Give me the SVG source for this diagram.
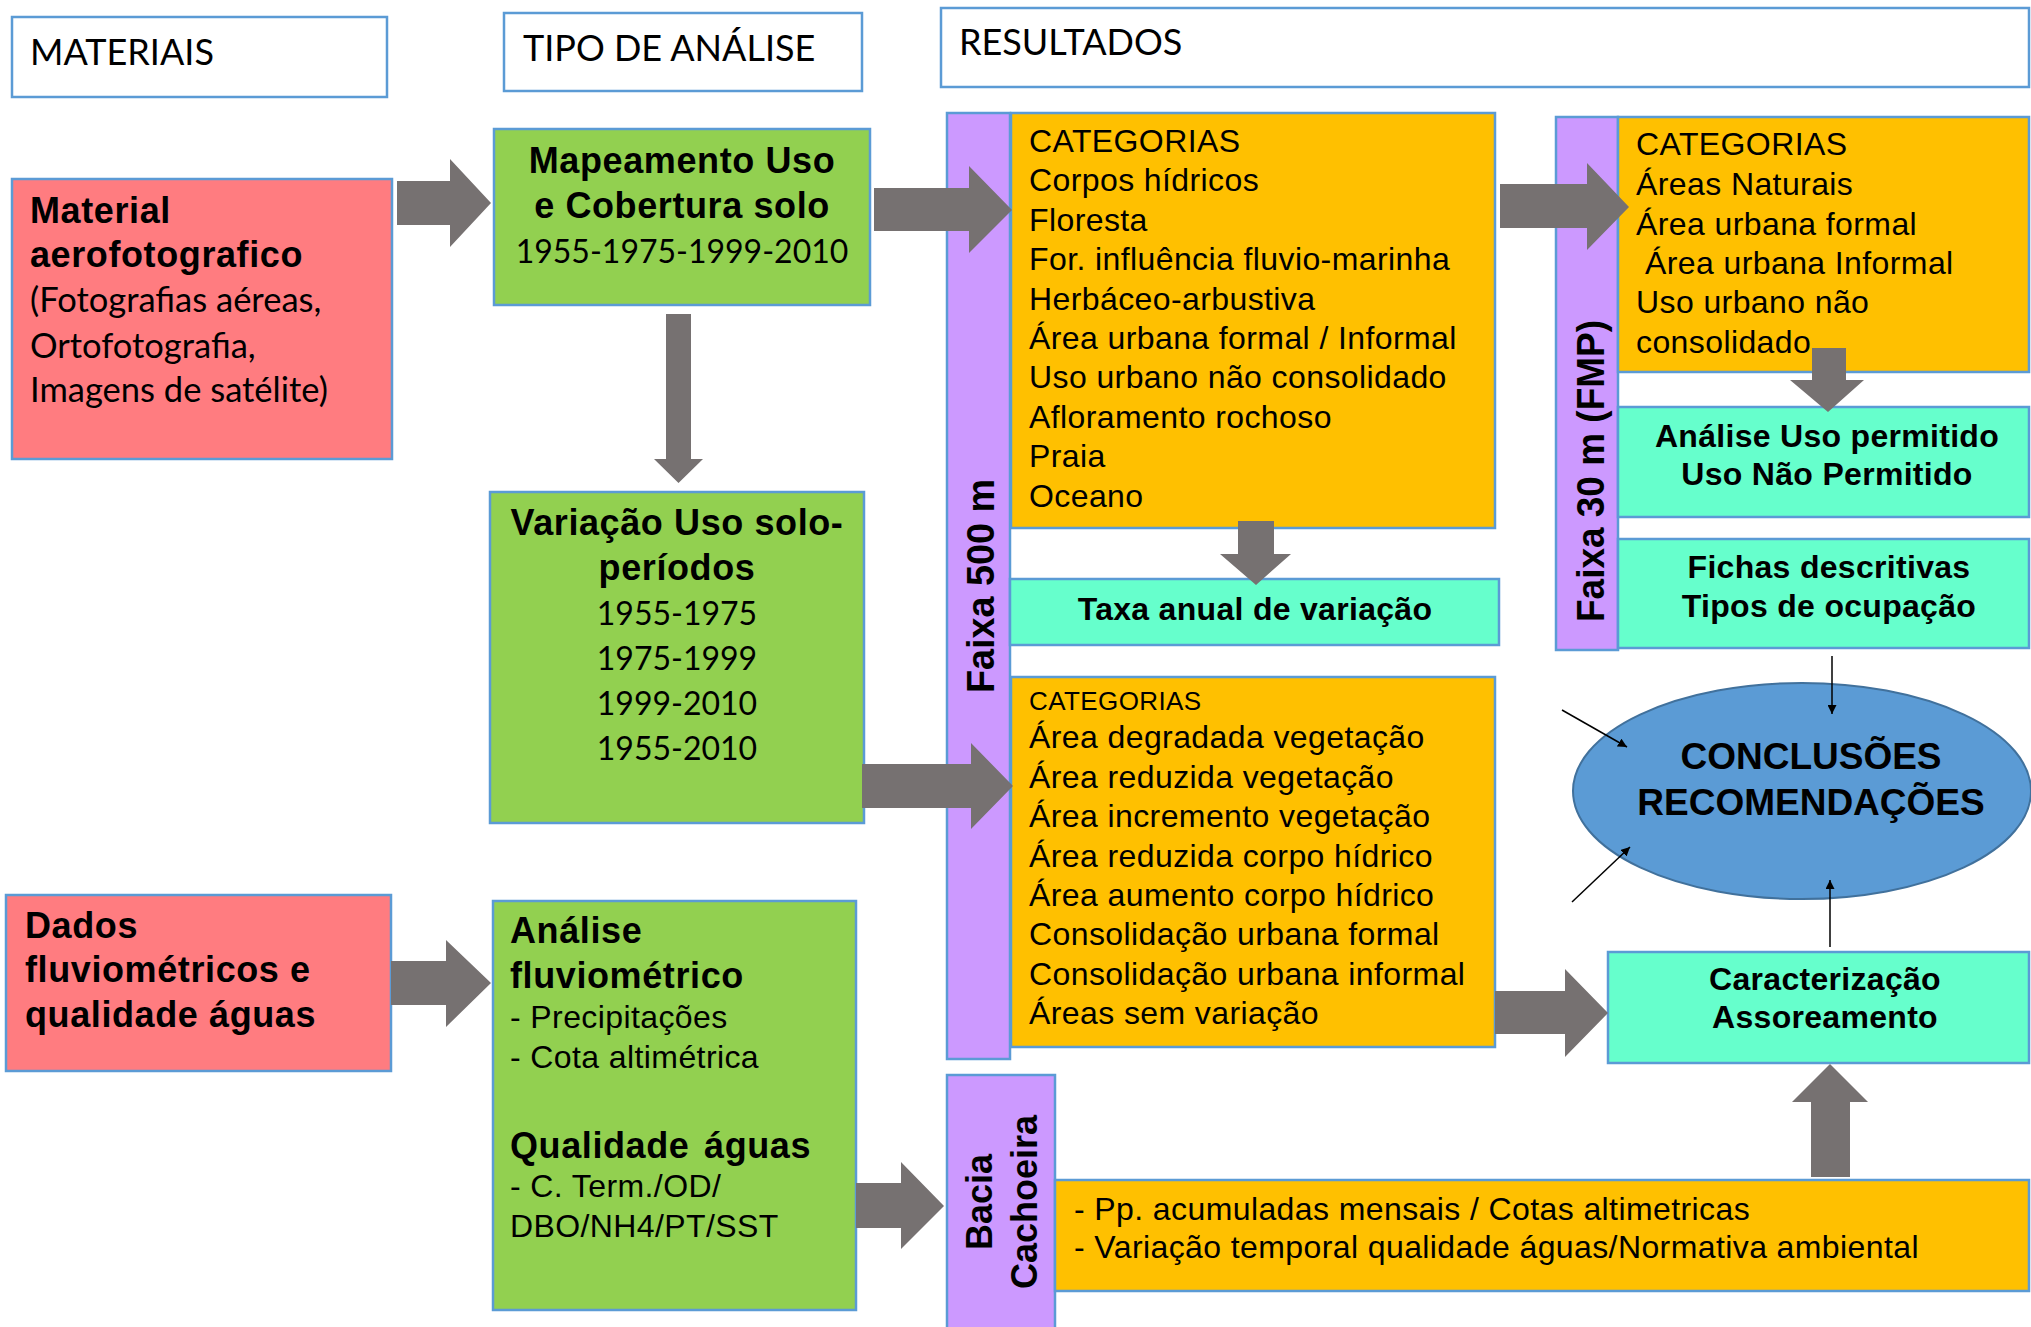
<svg xmlns="http://www.w3.org/2000/svg" width="2031" height="1327" viewBox="0 0 2031 1327">
<defs>
<style>
.box{stroke:#5B9BD5;stroke-width:2.5}
.hdr{fill:#FFFFFF}
.sal{fill:#FF7C80}
.grn{fill:#92D050}
.pur{fill:#CC99FF}
.org{fill:#FFC000}
.mnt{fill:#66FFCC}
.cal{font-family:Lato,"Open Sans",sans-serif;fill:#000}
.h{font-size:36px}
.yr{font-size:32px}
.mat{font-size:34.5px}
.b{font-family:"Liberation Sans",Arial,sans-serif;font-weight:bold;font-size:36px;letter-spacing:0.6px;fill:#000}
.r{font-family:"Liberation Sans",Arial,sans-serif;font-size:32px;letter-spacing:0.4px;fill:#000}
.m{font-family:"Liberation Sans",Arial,sans-serif;font-weight:bold;font-size:32px;letter-spacing:0.3px;fill:#000}
.v{font-family:"Liberation Sans",Arial,sans-serif;font-weight:bold;font-size:38px;fill:#000}
.c{text-anchor:middle}
.blk{fill:#767171}
.thin{stroke:#000;stroke-width:1.5;fill:none;marker-end:url(#ah)}
</style>
<marker id="ah" viewBox="0 0 10 10" refX="10" refY="5" markerWidth="9" markerHeight="9" markerUnits="userSpaceOnUse" orient="auto">
<path d="M0,0 L10,5 L0,10 z" fill="#000"/>
</marker>
</defs>
<rect width="2031" height="1327" fill="#FFFFFF"/>

<g id="hdr-materiais">
<rect class="box hdr" x="12" y="17" width="375" height="80"/>
<text class="cal h" x="30" y="65">MATERIAIS</text>
</g>
<g id="hdr-tipo">
<rect class="box hdr" x="504" y="13" width="358" height="78"/>
<text class="cal h" x="523" y="61">TIPO DE ANÁLISE</text>
</g>
<g id="hdr-resultados">
<rect class="box hdr" x="941" y="8" width="1088" height="79"/>
<text class="cal h" x="959" y="55">RESULTADOS</text>
</g>

<g id="material-aerofoto">
<rect class="box sal" x="12" y="179" width="380" height="280"/>
<text class="b" x="30" y="223">Material</text>
<text class="b" x="30" y="267">aerofotografico</text>
<text class="cal mat" x="30" y="312">(Fotografias aéreas,</text>
<text class="cal mat" x="30" y="358">Ortofotografia,</text>
<text class="cal mat" x="30" y="402">Imagens de satélite)</text>
</g>

<g id="dados-fluvio">
<rect class="box sal" x="6" y="895" width="385" height="176"/>
<text class="b" x="25" y="938">Dados</text>
<text class="b" x="25" y="982">fluviométricos e</text>
<text class="b" x="25" y="1027">qualidade águas</text>
</g>

<g id="mapeamento">
<rect class="box grn" x="494" y="129" width="376" height="176"/>
<text class="b c" x="682" y="173">Mapeamento Uso</text>
<text class="b c" x="682" y="218">e Cobertura solo</text>
<text class="cal yr c" x="682" y="263">1955-1975-1999-2010</text>
</g>

<g id="variacao">
<rect class="box grn" x="490" y="492" width="374" height="331"/>
<text class="b c" x="677" y="535">Variação Uso solo-</text>
<text class="b c" x="677" y="580">períodos</text>
<text class="cal yr c" x="677" y="625">1955-1975</text>
<text class="cal yr c" x="677" y="670">1975-1999</text>
<text class="cal yr c" x="677" y="715">1999-2010</text>
<text class="cal yr c" x="677" y="760">1955-2010</text>
</g>

<g id="analise-fluvio">
<rect class="box grn" x="493" y="901" width="363" height="409"/>
<text class="b" x="510" y="943">Análise</text>
<text class="b" x="510" y="988">fluviométrico</text>
<text class="r" x="510" y="1028">- Precipitações</text>
<text class="r" x="510" y="1068">- Cota altimétrica</text>
<text class="b" x="510" y="1158" style="word-spacing:4px">Qualidade águas</text>
<text class="r" x="510" y="1197">- C. Term./OD/</text>
<text class="r" x="510" y="1237">DBO/NH4/PT/SST</text>
</g>

<g id="faixa-500">
<rect class="box pur" x="947" y="113" width="63" height="946"/>
<text class="v c" transform="translate(994,586) rotate(-90)" x="0" y="0" textLength="214" lengthAdjust="spacingAndGlyphs">Faixa  500  m</text>
</g>

<g id="bacia">
<rect class="box pur" x="947" y="1075" width="108" height="270"/>
<text class="v c" style="font-size:36px" transform="translate(992,1202) rotate(-90)" x="0" y="0">Bacia</text>
<text class="v c" style="font-size:36px" transform="translate(1037,1202) rotate(-90)" x="0" y="0">Cachoeira</text>
</g>

<g id="faixa-30">
<rect class="box pur" x="1556" y="117" width="62" height="533"/>
<text class="v c" transform="translate(1604,471) rotate(-90)" x="0" y="0" textLength="302" lengthAdjust="spacingAndGlyphs">Faixa 30 m (FMP)</text>
</g>

<g id="categorias-1">
<rect class="box org" x="1011" y="113" width="484" height="415"/>
<text class="r" x="1029" y="152">CATEGORIAS</text>
<text class="r" x="1029" y="191">Corpos hídricos</text>
<text class="r" x="1029" y="231">Floresta</text>
<text class="r" x="1029" y="270">For. influência fluvio-marinha</text>
<text class="r" x="1029" y="310">Herbáceo-arbustiva</text>
<text class="r" x="1029" y="349">Área urbana formal / Informal</text>
<text class="r" x="1029" y="388">Uso urbano não consolidado</text>
<text class="r" x="1029" y="428">Afloramento rochoso</text>
<text class="r" x="1029" y="467">Praia</text>
<text class="r" x="1029" y="507">Oceano</text>
</g>

<g id="taxa-anual">
<rect class="box mnt" x="1010" y="579" width="489" height="66"/>
<text class="m c" x="1255" y="620">Taxa anual de variação</text>
</g>

<g id="categorias-3">
<rect class="box org" x="1011" y="677" width="484" height="370"/>
<text class="r" style="font-size:26px" x="1029" y="710">CATEGORIAS</text>
<text class="r" x="1029" y="748">Área degradada vegetação</text>
<text class="r" x="1029" y="788">Área reduzida vegetação</text>
<text class="r" x="1029" y="827">Área incremento vegetação</text>
<text class="r" x="1029" y="867">Área reduzida corpo hídrico</text>
<text class="r" x="1029" y="906">Área aumento corpo hídrico</text>
<text class="r" x="1029" y="945">Consolidação urbana formal</text>
<text class="r" x="1029" y="985">Consolidação urbana informal</text>
<text class="r" x="1029" y="1024">Áreas sem variação</text>
</g>

<g id="bacia-resultados">
<rect class="box org" x="1055" y="1180" width="974" height="111"/>
<text class="r" x="1074" y="1220">- Pp. acumuladas mensais / Cotas altimetricas</text>
<text class="r" x="1074" y="1258">- Variação temporal qualidade águas/Normativa ambiental</text>
</g>

<g id="categorias-2">
<rect class="box org" x="1618" y="117" width="411" height="255"/>
<text class="r" x="1636" y="155">CATEGORIAS</text>
<text class="r" x="1636" y="195">Áreas Naturais</text>
<text class="r" x="1636" y="235">Área urbana formal</text>
<text class="r" x="1645" y="274">Área urbana Informal</text>
<text class="r" x="1636" y="313">Uso urbano não</text>
<text class="r" x="1636" y="353">consolidado</text>
</g>

<g id="analise-uso">
<rect class="box mnt" x="1618" y="407" width="411" height="110"/>
<text class="m c" x="1827" y="447">Análise Uso permitido</text>
<text class="m c" x="1827" y="485">Uso Não Permitido</text>
</g>

<g id="fichas">
<rect class="box mnt" x="1618" y="539" width="411" height="109"/>
<text class="m c" x="1829" y="578">Fichas descritivas</text>
<text class="m c" x="1829" y="617">Tipos de ocupação</text>
</g>

<g id="caracterizacao">
<rect class="box mnt" x="1608" y="952" width="421" height="111"/>
<text class="m c" x="1825" y="990">Caracterização</text>
<text class="m c" x="1825" y="1028">Assoreamento</text>
</g>

<g id="conclusoes">
<ellipse cx="1802" cy="791" rx="229" ry="108" fill="#5B9BD5" stroke="#41719C" stroke-width="2"/>
<text class="b c" style="font-size:37px;letter-spacing:0" x="1811" y="769">CONCLUSÕES</text>
<text class="b c" style="font-size:37px;letter-spacing:0" x="1811" y="815">RECOMENDAÇÕES</text>
</g>

<g id="connectors">
<polygon class="blk" points="397,181 450,181 450,159 491,203 450,247 450,225 397,225"/>
<polygon class="blk" points="874,188 969,188 969,166 1012,210 969,253 969,231 874,231"/>
<polygon class="blk" points="666,314 691,314 691,459 703,459 678.5,483 654,459 666,459"/>
<polygon class="blk" points="862,764 971,764 971,743 1013,786 971,829 971,808 862,808"/>
<polygon class="blk" points="391,961 446,961 446,940 491,983 446,1027 446,1005 391,1005"/>
<polygon class="blk" points="856,1183 901,1183 901,1162 944,1206 901,1249 901,1228 856,1228"/>
<polygon class="blk" points="1500,184 1587,184 1587,163 1629,207 1587,250 1587,228 1500,228"/>
<polygon class="blk" points="1238,521 1274,521 1274,554 1291,554 1256,585 1220,554 1238,554"/>
<polygon class="blk" points="1812,348 1846,348 1846,380 1864,380 1828,412 1790,380 1812,380"/>
<polygon class="blk" points="1495,991 1565,991 1565,969 1608,1013 1565,1057 1565,1034 1495,1034"/>
<polygon class="blk" points="1811,1177 1850,1177 1850,1102 1868,1102 1830,1064 1792,1102 1811,1102"/>
<line class="thin" x1="1832" y1="656" x2="1832" y2="714"/>
<line class="thin" x1="1562" y1="710" x2="1627" y2="747"/>
<line class="thin" x1="1572" y1="902" x2="1630" y2="847"/>
<line class="thin" x1="1830" y1="947" x2="1830" y2="880"/>
</g>
</svg>
